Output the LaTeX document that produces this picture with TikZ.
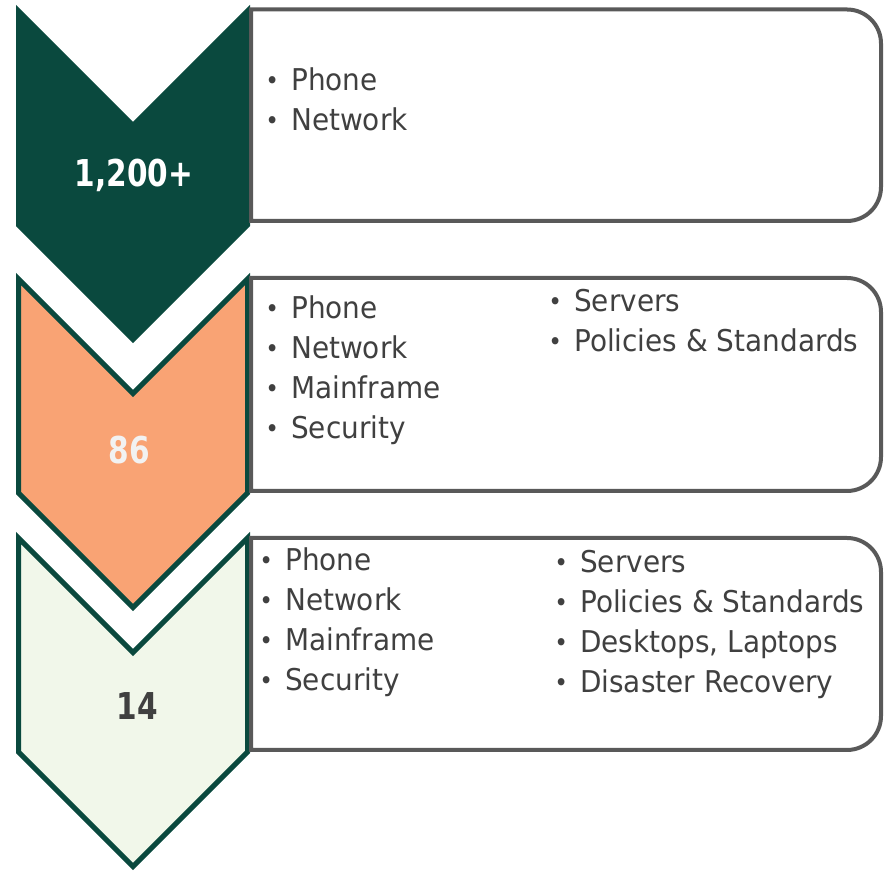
\documentclass[tikz,border=0pt]{standalone}
\usepackage{fontspec}
\setmainfont{DejaVu Sans}[FakeStretch=0.93, BoldFeatures={FakeStretch=0.80}]
\definecolor{dkgreen}{RGB}{10,73,62}
\definecolor{peach}{RGB}{249,163,116}
\definecolor{palegreen}{RGB}{241,247,234}
\definecolor{boxgray}{RGB}{89,89,89}
\definecolor{txtgray}{RGB}{64,64,64}
\definecolor{numlight}{RGB}{242,242,242}
\newcommand\bitem{\llap{\makebox[38pt][c]{\fontsize{25}{25}\selectfont\raisebox{1.2pt}{•}}}}
\tikzset{
  chev/.style={draw=dkgreen, line width=5pt},
  infobox/.style={draw=boxgray, line width=4pt, fill=white},
  item/.style={anchor=base west, inner sep=0pt, text=txtgray, font=\fontsize{30}{36}\selectfont},
  num/.style={anchor=base, inner sep=0pt, font=\fontsize{37}{44}\selectfont\bfseries}
}
\begin{document}
\begin{tikzpicture}[x=1pt,y=1pt]
\useasboundingbox (0,0) rectangle (884,872);
% chevrons
\foreach \t/\c/\n in {861/dkgreen/chevA, 593/peach/chevB, 334/palegreen/chevC} {
  \draw[chev, fill=\c] (18.5,\t) -- (133,{\t-114.5}) -- (247.5,\t) -- (247.5,{\t-214})
     -- (133,{\t-328.5}) -- (18.5,{\t-214}) -- cycle;
}
% boxes
\foreach \tp/\bt in {862.5/651, 594/381, 334/122} {
  \draw[infobox] (251,\bt) -- (251,\tp) -- (847,\tp) arc[start angle=90,end angle=0,radius=34]
     -- (881,{\bt+34}) arc[start angle=0,end angle=-90,radius=34] -- cycle;
}
% numbers
\node[num, text=white] (nA) at (134,685) {1,200+};
\node[num, text=numlight] (nB) at (129.5,408) {86};
\node[num, text=txtgray] (nC) at (137,152) {14};
% box 1
\node[item] (a1) at (291,781) {\bitem Phone};
\node[item] (a2) at (291,741) {\bitem Network};
% box 2
\node[item] (b1) at (291,553) {\bitem Phone};
\node[item] (b2) at (291,513) {\bitem Network};
\node[item] (b3) at (291,473) {\bitem Mainframe};
\node[item] (b4) at (291,433) {\bitem Security};
\node[item] (b5) at (574,560) {\bitem Servers};
\node[item] (b6) at (574,520) {\bitem Policies \& Standards};
% box 3
\node[item] (c1) at (285,301) {\bitem Phone};
\node[item] (c2) at (285,261) {\bitem Network};
\node[item] (c3) at (285,221) {\bitem Mainframe};
\node[item] (c4) at (285,181) {\bitem Security};
\node[item] (c5) at (580,299) {\bitem Servers};
\node[item] (c6) at (580,259) {\bitem Policies \& Standards};
\node[item] (c7) at (580,219) {\bitem Desktops, Laptops};
\node[item] (c8) at (580,179) {\bitem Disaster Recovery};
\end{tikzpicture}
\end{document}
